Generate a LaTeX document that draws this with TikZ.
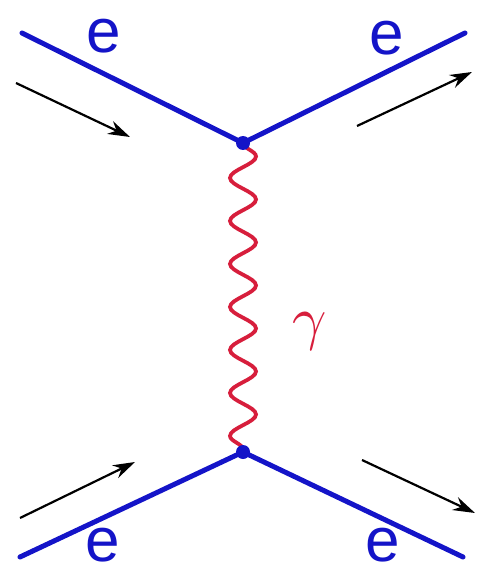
\documentclass[tikz,border=0pt]{standalone}
\usepackage{fontspec}
\usepackage{unicode-math}
\setmainfont{Liberation Sans}
\setmathfont{Latin Modern Math}
\usetikzlibrary{decorations.pathmorphing,arrows.meta}
\definecolor{eblue}{RGB}{20,20,200}
\definecolor{gred}{RGB}{215,30,60}
\begin{document}
\begin{tikzpicture}[x=1pt,y=-1pt,
  fermion/.style={draw=eblue,line width=5pt,line cap=round},
  photon/.style={draw=gred,line width=3.8pt,decorate,decoration={snake,amplitude=13pt,segment length=43pt}},
  momentum/.style={draw=black,line width=2.2pt,-{Stealth[length=22pt,width=14pt]}},
  elabel/.style={text=eblue,font=\fontsize{62}{62}\selectfont,inner sep=0pt},
  vdot/.style={circle,fill=eblue,minimum size=14pt,inner sep=0pt}]
\useasboundingbox (0,0) rectangle (476,572);
\coordinate (v1) at (243,143);
\coordinate (v2) at (243,452);
\coordinate (a) at (22,33);
\coordinate (b) at (465,33);
\coordinate (c) at (20,557);
\coordinate (d) at (463,557);
\draw[fermion] (a) -- (v1) -- (b);
\draw[fermion] (c) -- (v2) -- (d);
\draw[photon] (v1) -- (v2);
\node[vdot] (n1) at (v1) {};
\node[vdot] (n2) at (v2) {};
\coordinate (p1s) at (16,83);
\coordinate (p1e) at (130,137);
\coordinate (p2s) at (357,126);
\coordinate (p2e) at (472,72);
\coordinate (p3s) at (20,518);
\coordinate (p3e) at (135,462);
\coordinate (p4s) at (362,460);
\coordinate (p4e) at (475,513);
\draw[momentum] (p1s) -- (p1e);
\draw[momentum] (p2s) -- (p2e);
\draw[momentum] (p3s) -- (p3e);
\draw[momentum] (p4s) -- (p4e);
\node[elabel] (e1) at (104,36) {e};
\node[elabel] (e2) at (387,38) {e};
\node[elabel] (e3) at (103,545) {e};
\node[elabel] (e4) at (383,545) {e};
\node[text=gred,font=\fontsize{60}{60}\selectfont,inner sep=0pt] (g) at (310,332) {$\gamma$};
\end{tikzpicture}
\end{document}
